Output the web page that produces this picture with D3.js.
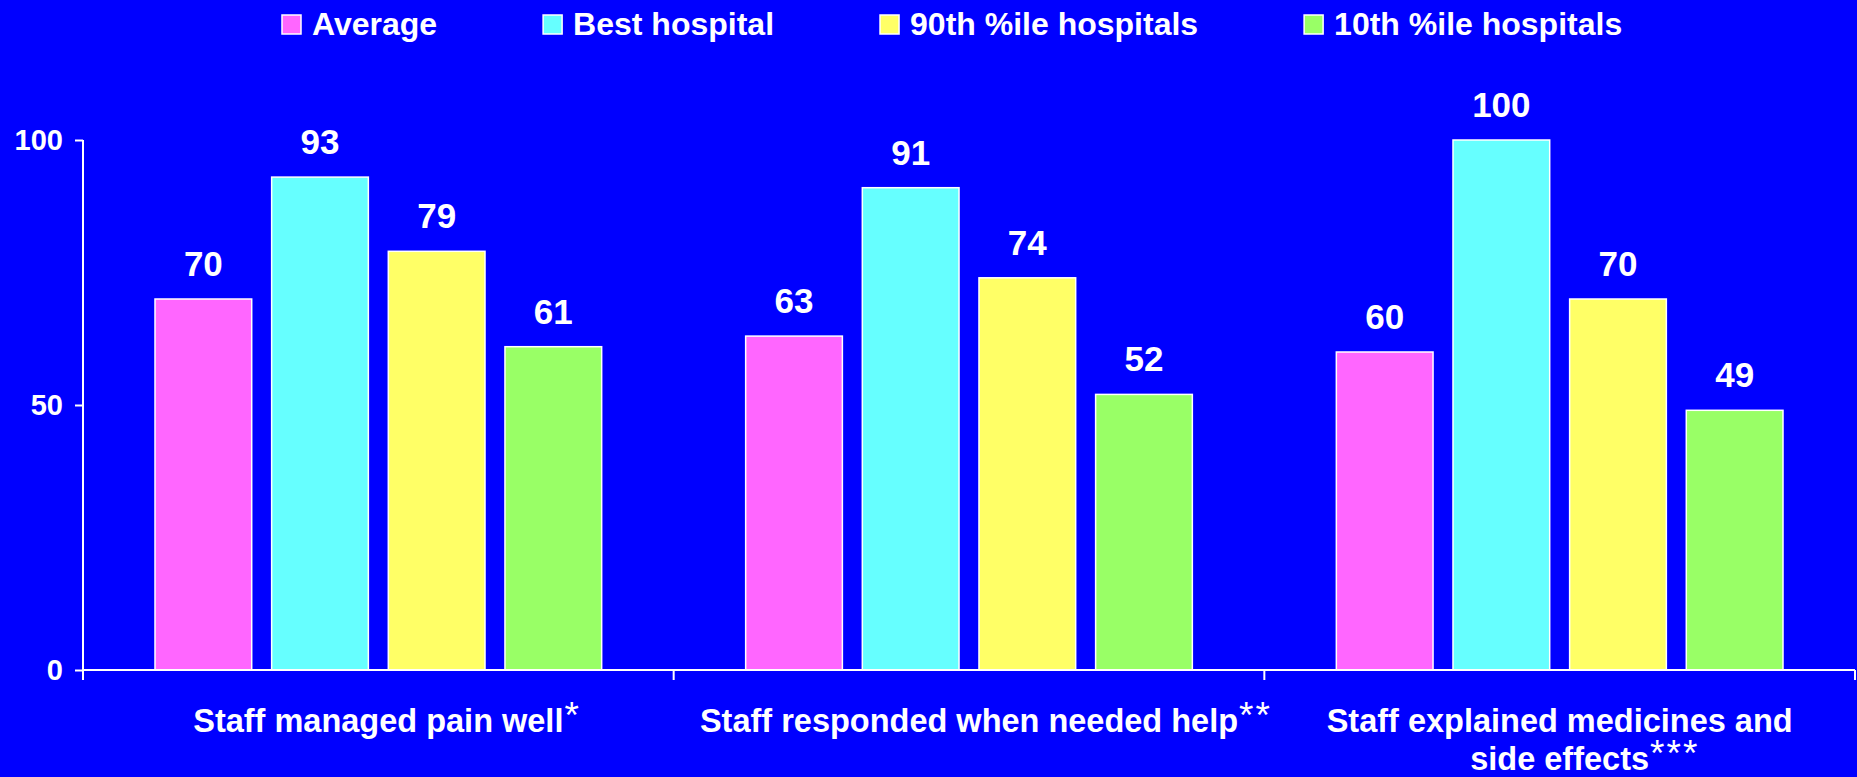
<!DOCTYPE html>
<html>
<head>
<meta charset="utf-8">
<script src="https://cdn.jsdelivr.net/npm/d3@7"></script>
<style>
  html, body { margin: 0; padding: 0; background: #0000ff; overflow: hidden; }
  svg { display: block; font-family: "Liberation Sans", Arial, sans-serif; font-weight: bold; }
  text { fill: #ffffff; }
</style>
</head>
<body>
<div id="chart"></div>
<script>
// chart data
let categories = ['Staff managed pain well', 'Staff responded when needed help', 'Staff explained medicines and side effects'];
let label_lines = [['Staff managed pain well'], ['Staff responded when needed help'], ['Staff explained medicines and', 'side effects']];
let label_marks = ['*', '**', '***'];
let series = ['Average', 'Best hospital', '90th %ile hospitals', '10th %ile hospitals'];
let colors = ['#ff66ff', '#66ffff', '#ffff66', '#99ff66'];
let average = [70, 63, 60];
let best = [93, 91, 100];
let pct90 = [79, 74, 70];
let pct10 = [61, 52, 49];
let y_ticks = [0, 50, 100];

let svg_width = 1857;
let svg_height = 777;

let margin = {top: 140, right: 2, bottom: 107, left: 83};
let width = svg_width - margin.left - margin.right;
let height = svg_height - margin.top - margin.bottom;

let values = [average, best, pct90, pct10];
let table = categories.map((c, i) => ({
  category: c,
  bars: series.map((s, j) => ({series: s, value: values[j][i], color: colors[j]}))
}));

let svg = d3.select('#chart').append('svg')
  .attr('width', svg_width)
  .attr('height', svg_height);

svg.append('rect')
  .attr('width', svg_width)
  .attr('height', svg_height)
  .attr('fill', '#0000ff');

let chart_group = svg.append('g')
  .attr('transform', `translate(${margin.left}, ${margin.top})`);

// scales
let x0 = d3.scaleBand()
  .domain(categories)
  .range([0, width])
  .padding(0);

let x1 = d3.scaleBand()
  .domain(series)
  .range([72, x0.bandwidth() - 72])
  .paddingInner(0.171);

let y = d3.scaleLinear()
  .domain([0, 100])
  .range([height, 0]);

// y axis
let yAxis = chart_group.append('g')
  .call(d3.axisLeft(y).tickValues(y_ticks).tickSize(8).tickPadding(12));
yAxis.select('.domain').remove();
yAxis.selectAll('line').attr('stroke', '#fff').attr('stroke-width', 2);
yAxis.selectAll('text')
  .attr('fill', '#fff')
  .attr('font-size', '29px')
  .attr('font-family', '"Liberation Sans", Arial, sans-serif')
  .attr('font-weight', 'bold');

chart_group.append('line')
  .attr('x1', 0).attr('x2', 0)
  .attr('y1', y(100)).attr('y2', y(0) + 10)
  .attr('stroke', '#fff').attr('stroke-width', 2);

// bars
let groups = chart_group.selectAll('.group')
  .data(table)
  .enter()
  .append('g')
  .attr('transform', d => `translate(${x0(d.category)}, 0)`);

groups.selectAll('rect')
  .data(d => d.bars)
  .enter()
  .append('rect')
  .attr('x', d => x1(d.series))
  .attr('y', d => y(d.value))
  .attr('width', x1.bandwidth())
  .attr('height', d => y(0) - y(d.value))
  .attr('fill', d => d.color)
  .attr('stroke', '#fff')
  .attr('stroke-width', 1.5);

groups.selectAll('.value')
  .data(d => d.bars)
  .enter()
  .append('text')
  .attr('x', d => x1(d.series) + x1.bandwidth() / 2)
  .attr('y', d => y(d.value) - 23)
  .attr('text-anchor', 'middle')
  .attr('font-size', '35px')
  .text(d => d.value);

// x axis line and separators
chart_group.append('line')
  .attr('x1', 0).attr('x2', width)
  .attr('y1', y(0)).attr('y2', y(0))
  .attr('stroke', '#fff').attr('stroke-width', 2);

chart_group.selectAll('.sep')
  .data(categories)
  .enter()
  .append('line')
  .attr('x1', d => x0(d) + x0.bandwidth())
  .attr('x2', d => x0(d) + x0.bandwidth())
  .attr('y1', y(0))
  .attr('y2', y(0) + 10)
  .attr('stroke', '#fff').attr('stroke-width', 2);

// category labels, asterisks hang after the centred text
categories.forEach((c, i) => {
  let cx = x0(c) + x0.bandwidth() / 2;
  let lines = label_lines[i];
  let last_len = 0;
  let last_y = 0;
  lines.forEach((line, k) => {
    let ly = y(0) + 62 + k * 38;
    let t = chart_group.append('text')
      .attr('x', cx)
      .attr('y', ly)
      .attr('text-anchor', 'middle')
      .attr('font-size', '32.5px')
      .text(line);
    last_len = t.node().getComputedTextLength();
    last_y = ly;
  });
  chart_group.append('text')
    .attr('x', cx + last_len / 2 + 1)
    .attr('y', last_y - 4)
    .attr('font-size', '37px')
    .attr('font-weight', 'normal')
    .attr('letter-spacing', '2px')
    .text(label_marks[i]);
});

// legend
let legend = svg.append('g')
  .attr('transform', 'translate(282, 0)');

let lx = 0;
series.forEach((s, j) => {
  let item = legend.append('g').attr('transform', `translate(${lx}, 0)`);
  item.append('rect')
    .attr('x', 0).attr('y', 15)
    .attr('width', 19).attr('height', 19)
    .attr('fill', colors[j])
    .attr('stroke', '#fff').attr('stroke-width', 1.5);
  let txt = item.append('text')
    .attr('x', 30).attr('y', 35)
    .attr('font-size', '32px')
    .text(s);
  lx += 30 + txt.node().getComputedTextLength() + 106;
});
</script>
</body>
</html>
